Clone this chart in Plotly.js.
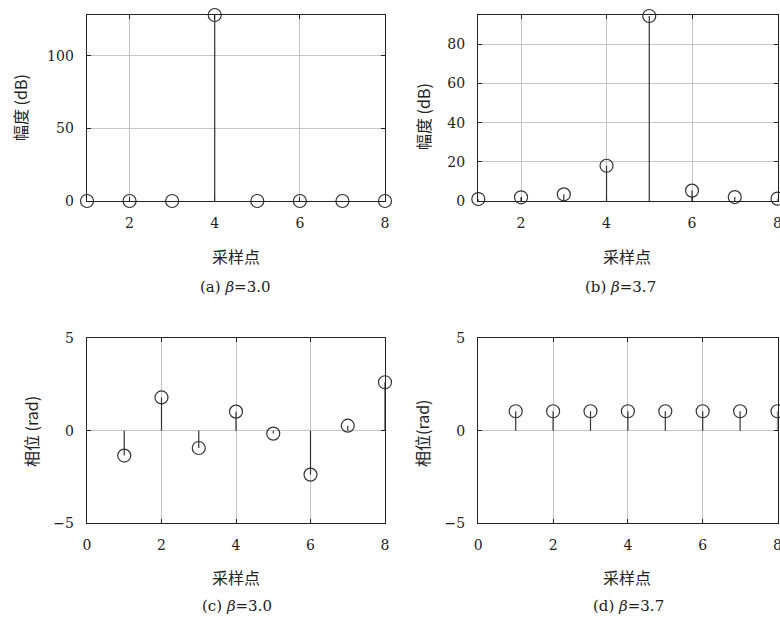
<!DOCTYPE html>
<html>
<head>
<meta charset="utf-8">
<script src="https://cdn.plot.ly/plotly-3.0.1.min.js"></script>
<style>
  html, body { margin: 0; padding: 0; background: #fff; }
  #chart { width: 780px; height: 619px; }
</style>
</head>
<body>
<div id="chart"></div>
<script>
// sample index (x) for all four panels
var samplePts = [1, 2, 3, 4, 5, 6, 7, 8];

// (a) magnitude, beta = 3.0
var magA = [0, 0, 0, 128, 0, 0, 0, 0];
// (b) magnitude, beta = 3.7
var magB = [1.0, 1.9, 3.4, 18, 94.5, 5.3, 2.0, 1.2];
// (c) phase, beta = 3.0
var phaseA = [-1.35, 1.8, -0.94, 1.03, -0.16, -2.38, 0.27, 2.62];
// (d) phase, beta = 3.7
var phaseB = [1.05, 1.05, 1.05, 1.05, 1.05, 1.05, 1.05, 1.05];

var magTicksA = [0, 50, 100];
var magTicksB = [0, 20, 40, 60, 80];
var phaseTicks = [-5, 0, 5];
var xTicksTop = [2, 4, 6, 8];
var xTicksBottom = [0, 2, 4, 6, 8];

var captions = ['(a) <i>β</i>=3.0', '(b) <i>β</i>=3.7', '(c) <i>β</i>=3.0', '(d) <i>β</i>=3.7'];

var serif = '"DejaVu Serif", serif';
var cjk = '"Noto Sans CJK SC", "DejaVu Serif", serif';
var ink = '#333333';

// stem lines + open circle markers for one panel
function stemTraces(xs, ys, xa, ya) {
	var lx = [], ly = [];
	for (var i = 0; i < xs.length; i++) {
		lx.push(xs[i], xs[i], null);
		ly.push(0, ys[i], null);
	}
	var stems = {
		x: lx, y: ly, xaxis: xa, yaxis: ya,
		type: 'scatter', mode: 'lines',
		line: { color: ink, width: 1.2 },
		hoverinfo: 'none', showlegend: false
	};
	var heads = {
		x: xs, y: ys, xaxis: xa, yaxis: ya,
		type: 'scatter', mode: 'markers',
		cliponaxis: false,
		marker: { symbol: 'circle-open', size: 13, color: ink, line: { width: 1.2, color: ink } },
		hoverinfo: 'none', showlegend: false
	};
	return [stems, heads];
}

function axisStyle(extra) {
	var a = {
		showline: true, linecolor: '#222', linewidth: 1.4, mirror: 'ticks',
		ticks: 'inside', ticklen: 4, tickcolor: '#222', tickwidth: 1,
		showgrid: true, gridcolor: '#c4c4c4', gridwidth: 1,
		zeroline: false, tickmode: 'array',
		tickfont: { family: serif, size: 14, color: '#222' },
		ticklabelstandoff: 9,
		ticklabeloverflow: 'allow',
		fixedrange: true
	};
	for (var k in extra) a[k] = extra[k];
	return a;
}

var data = [].concat(
	stemTraces(samplePts, magA, 'x', 'y'),
	stemTraces(samplePts, magB, 'x2', 'y2'),
	stemTraces(samplePts, phaseA, 'x3', 'y3'),
	stemTraces(samplePts, phaseB, 'x4', 'y4')
);

var W = 780, H = 619;
function px(v) { return v / W; }
function py(v) { return 1 - v / H; }

var domL = [px(87), px(385)];
var domR = [px(478.3), px(777.5)];
var domT = [py(201), py(15)];
var domB = [py(523), py(338.3)];

function note(text, x, y, font, angle) {
	return {
		text: text, xref: 'paper', yref: 'paper',
		x: px(x), y: py(y), xanchor: 'center', yanchor: 'middle',
		showarrow: false, textangle: angle || 0,
		font: font
	};
}
var cjkFont = { family: cjk, size: 16, color: '#222' };
var capFont = { family: serif, size: 15, color: '#222' };

var layout = {
	width: W, height: H,
	margin: { l: 0, r: 0, t: 0, b: 0 },
	paper_bgcolor: '#fff', plot_bgcolor: '#fff',
	showlegend: false,
	xaxis: axisStyle({ domain: domL, range: [1, 8], tickvals: xTicksTop, anchor: 'y' }),
	yaxis: axisStyle({ domain: domT, range: [0, 128], tickvals: magTicksA, anchor: 'x' }),
	xaxis2: axisStyle({ domain: domR, range: [1, 8], tickvals: xTicksTop, anchor: 'y2' }),
	yaxis2: axisStyle({ domain: domT, range: [0, 95], tickvals: magTicksB, anchor: 'x2' }),
	xaxis3: axisStyle({ domain: domL, range: [0, 8], tickvals: xTicksBottom, anchor: 'y3' }),
	yaxis3: axisStyle({ domain: domB, range: [-5, 5], tickvals: phaseTicks, anchor: 'x3' }),
	xaxis4: axisStyle({ domain: domR, range: [0, 8], tickvals: xTicksBottom, anchor: 'y4' }),
	yaxis4: axisStyle({ domain: domB, range: [-5, 5], tickvals: phaseTicks, anchor: 'x4' }),
	annotations: [
		note('幅度 (dB)', 20, 108, cjkFont, -90),
		note('幅度 (dB)', 423, 116, cjkFont, -90),
		note('相位 (rad)', 31, 431, cjkFont, -90),
		note('相位(rad)', 422, 433, cjkFont, -90),
		note('采样点', 236, 256, cjkFont),
		note('采样点', 627, 256, cjkFont),
		note('采样点', 236, 577, cjkFont),
		note('采样点', 627, 577, cjkFont),
		note(captions[0], 235, 287, capFont),
		note(captions[1], 620, 287, capFont),
		note(captions[2], 237, 606, capFont),
		note(captions[3], 628, 606, capFont)
	]
};

Plotly.newPlot('chart', data, layout, { displayModeBar: false, staticPlot: true });
</script>
</body>
</html>
